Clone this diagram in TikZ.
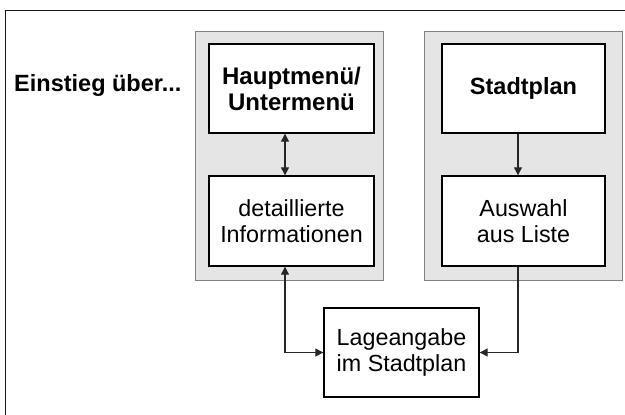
\documentclass[tikz,border=0pt]{standalone}
\usepackage{fontspec}
\setmainfont{Liberation Sans}
\usetikzlibrary{arrows.meta,calc}
\tikzset{
  panel/.style={draw=black!50, fill=black!10, line width=1pt},
  box/.style={draw=black, fill=white, line width=1.4pt, align=center,
    font=\fontsize{23.3}{26}\selectfont, inner sep=0pt},
  title/.style={font=\fontsize{23.5}{26}\selectfont\bfseries},
  conn/.style={line width=1.2pt, draw=black!85},
  tip/.style={-{Triangle[length=8pt,width=8pt]}},
  frameline/.style={line width=1.6pt, draw=black!90},
}
\begin{document}
\begin{tikzpicture}[x=1pt,y=-1pt]
  \useasboundingbox (0,0) rectangle (625,415);
  % outer frame edges
  \draw[frameline] (5.5,415) -- (5.5,10.5) -- (625,10.5);
  % heading
  \node[title, anchor=base west, inner sep=0pt] (head) at (14,92) {Einstieg über...};
  % grey panels
  \draw[panel] (195,31) rectangle (383,280);
  \draw[panel] (424,31) rectangle (622,280);
  % boxes
  \node[box, minimum width=165pt, minimum height=89pt] (menu) at (291.5,88.5)
    {\fontsize{24}{26}\selectfont\bfseries Hauptmenü/\\\fontsize{24}{26}\selectfont\bfseries Untermenü};
  \node[box, minimum width=165pt, minimum height=90pt] (info) at (291.5,221)
    {detaillierte\\Informationen};
  \node[box, minimum width=163pt, minimum height=89pt] (plan) at (523.5,88.5)
    {\fontsize{23.5}{26}\selectfont\bfseries Stadtplan};
  \node[box, minimum width=163pt, minimum height=90pt] (list) at (523.5,221)
    {Auswahl\\aus Liste};
  \node[box, minimum width=155pt, minimum height=89pt] (loc) at (401.5,352.5)
    {Lageangabe\\im Stadtplan};
  % connector columns
  \coordinate (lx) at (285,0);
  \coordinate (rx) at (518,0);
  \draw[conn, {Triangle[length=8pt,width=8pt]}-{Triangle[length=8pt,width=8pt]}]
    (menu.south -| lx) -- (info.north -| lx);
  \draw[conn, tip] (plan.south -| rx) -- (list.north -| rx);
  \draw[conn, {Triangle[length=8pt,width=8pt]}-{Triangle[length=8pt,width=8pt]}]
    (info.south -| lx) |- (loc.west);
  \draw[conn, tip] (list.south -| rx) |- (loc.east);
\end{tikzpicture}
\end{document}
